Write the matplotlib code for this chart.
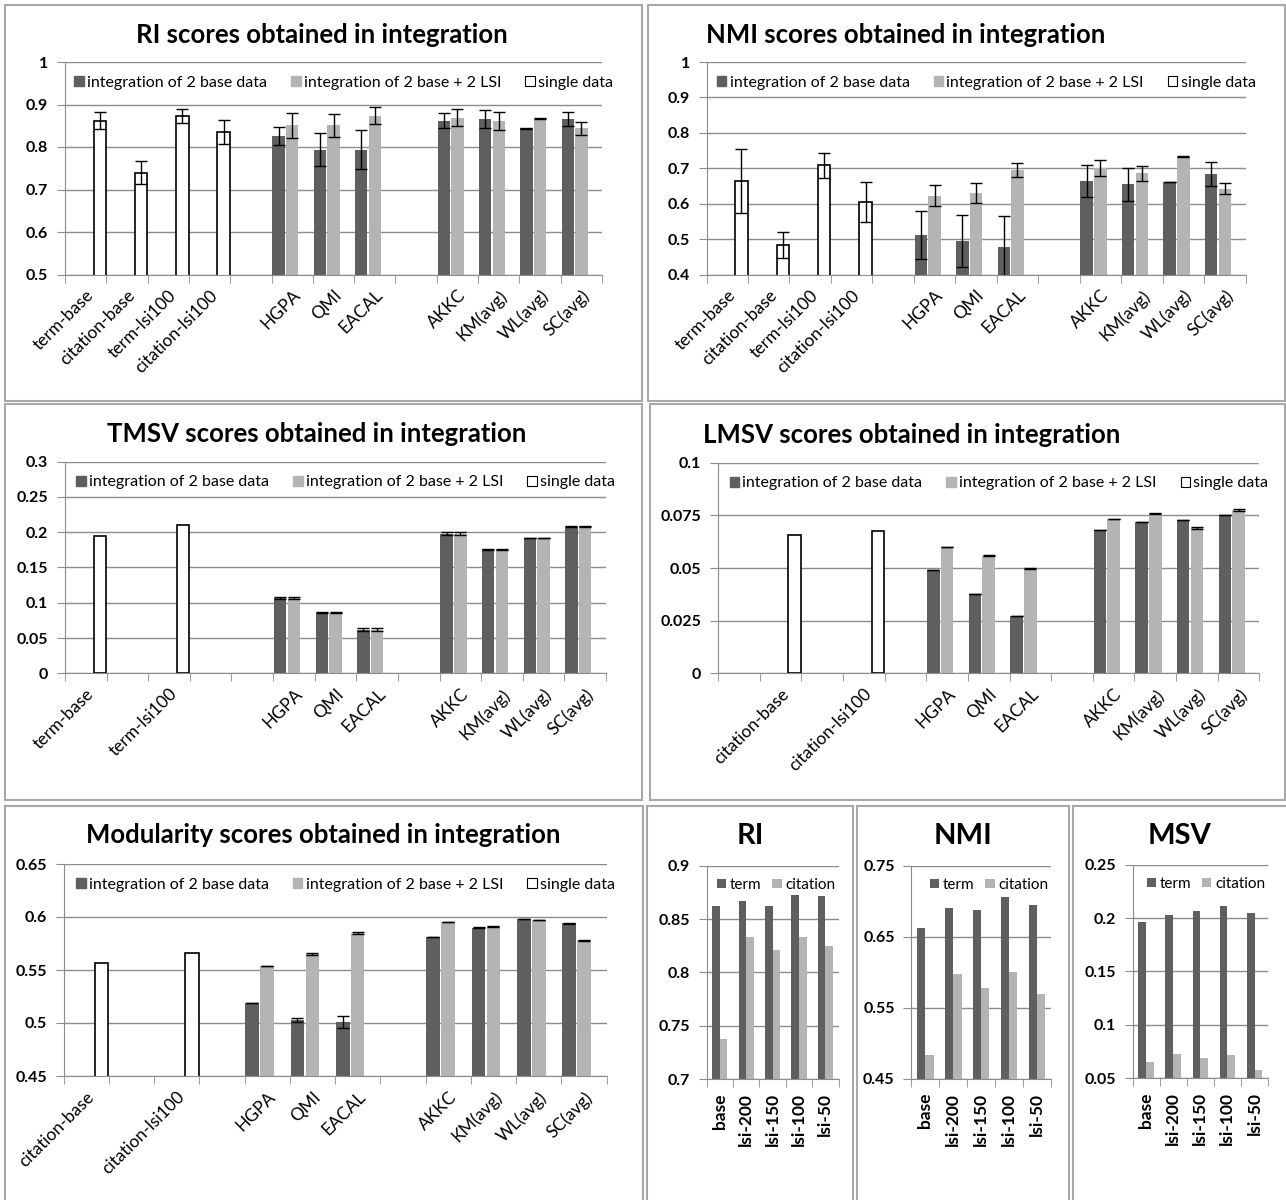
import matplotlib
matplotlib.use("Agg")
import matplotlib.pyplot as plt
import numpy as np
from matplotlib.patches import Rectangle, Patch
from matplotlib.ticker import FixedLocator

plt.rcParams['font.family'] = ['Lato', 'DejaVu Sans']

# ---- data ----
ri_nmi_labels = ['term-base', 'citation-base', 'term-lsi100', 'citation-lsi100', '',
                 'HGPA', 'QMI', 'EACAL', '', 'AKKC', 'KM(avg)', 'WL(avg)', 'SC(avg)']
tmsv_labels = ['term-base', '', 'term-lsi100', '', '',
               'HGPA', 'QMI', 'EACAL', '', 'AKKC', 'KM(avg)', 'WL(avg)', 'SC(avg)']
lmsv_labels = ['', 'citation-base', '', 'citation-lsi100', '',
               'HGPA', 'QMI', 'EACAL', '', 'AKKC', 'KM(avg)', 'WL(avg)', 'SC(avg)']
mod_labels = ['citation-base', '', 'citation-lsi100', '',
              'HGPA', 'QMI', 'EACAL', '', 'AKKC', 'KM(avg)', 'WL(avg)', 'SC(avg)']

# slot index of each single-data bar and each method pair
ri_single_slots = [0, 1, 2, 3]
tmsv_single_slots = [0, 2]
lmsv_single_slots = [1, 3]
mod_single_slots = [0, 2]
method_slots_13 = [5, 6, 7, 9, 10, 11, 12]
method_slots_12 = [4, 5, 6, 8, 9, 10, 11]

ri_single = [0.862, 0.740, 0.873, 0.835]
ri_single_err = [0.020, 0.028, 0.017, 0.029]
ri_base = [0.825, 0.794, 0.794, 0.862, 0.866, 0.844, 0.866]
ri_base_err = [0.021, 0.038, 0.046, 0.018, 0.022, 0.001, 0.017]
ri_lsi = [0.851, 0.851, 0.873, 0.869, 0.862, 0.867, 0.844]
ri_lsi_err = [0.030, 0.027, 0.020, 0.020, 0.021, 0.001, 0.015]

nmi_single = [0.664, 0.484, 0.708, 0.605]
nmi_single_err = [0.091, 0.037, 0.036, 0.056]
nmi_base = [0.511, 0.495, 0.479, 0.664, 0.655, 0.661, 0.684]
nmi_base_err = [0.067, 0.074, 0.087, 0.044, 0.047, 0.001, 0.033]
nmi_lsi = [0.623, 0.630, 0.695, 0.700, 0.686, 0.733, 0.642]
nmi_lsi_err = [0.030, 0.028, 0.021, 0.023, 0.021, 0.001, 0.016]

tmsv_single = [0.195, 0.210]
tmsv_base = [0.107, 0.086, 0.062, 0.198, 0.176, 0.192, 0.208]
tmsv_base_err = [0.001, 0.001, 0.002, 0.002, 0.0005, 0.0005, 0.0005]
tmsv_lsi = [0.107, 0.086, 0.062, 0.198, 0.176, 0.192, 0.208]
tmsv_lsi_err = [0.001, 0.001, 0.002, 0.002, 0.0005, 0.0005, 0.0005]

lmsv_single = [0.0657, 0.0678]
lmsv_base = [0.0491, 0.0378, 0.0274, 0.0679, 0.0718, 0.0729, 0.0750]
lmsv_base_err = [0, 0, 0, 0, 0, 0, 0]
lmsv_lsi = [0.0600, 0.0559, 0.0498, 0.0733, 0.0759, 0.0690, 0.0775]
lmsv_lsi_err = [0.0002, 0.0002, 0.0002, 0.0001, 0.0001, 0.0006, 0.0004]

mod_single = [0.5563, 0.5664]
mod_base = [0.519, 0.5025, 0.501, 0.581, 0.590, 0.598, 0.594]
mod_base_err = [0, 0.002, 0.006, 0, 0.0003, 0.0003, 0.0003]
mod_lsi = [0.554, 0.565, 0.585, 0.595, 0.591, 0.597, 0.578]
mod_lsi_err = [0, 0.001, 0.001, 0, 0.0005, 0.0003, 0.0003]

lsi_labels = ['base', 'lsi-200', 'lsi-150', 'lsi-100', 'lsi-50']
s_ri_term = [0.862, 0.867, 0.862, 0.873, 0.872]
s_ri_cit = [0.738, 0.833, 0.821, 0.833, 0.825]
s_nmi_term = [0.663, 0.690, 0.687, 0.706, 0.695]
s_nmi_cit = [0.484, 0.597, 0.578, 0.600, 0.570]
s_msv_term = [0.196, 0.2025, 0.207, 0.211, 0.205]
s_msv_cit = [0.065, 0.073, 0.069, 0.072, 0.058]

DARK = '#5f5f5f'
LIGHT = '#b4b4b4'
GRID = '#8c8c8c'
BORDER = '#a8a8a8'

W, H = 1286, 1200
fig = plt.figure(figsize=(W / 100, H / 100), dpi=100)


def rect(x0, x1, ytop, ybot):
    return [x0 / W, 1 - ybot / H, (x1 - x0) / W, (ybot - ytop) / H]


def box(x0, y0, x1, y1):
    fig.patches.append(Rectangle((x0 / W, 1 - y1 / H), (x1 - x0) / W, (y1 - y0) / H,
                                 transform=fig.transFigure, fill=False,
                                 edgecolor=BORDER, lw=1.5))


def title(x, y, s, size=18.5):
    fig.text(x / W, 1 - y / H, s, ha='center', va='center', fontsize=size, fontweight='bold')


def style_axes(ax, ymin, ymax, step, nslots, xpad):
    # tick_params / grid first: they can rebuild the ticks and drop label styling
    ax.tick_params(axis='y', length=6, color=GRID, pad=6)
    ax.tick_params(axis='x', which='minor', length=6, color=GRID)
    ax.tick_params(axis='x', which='major', length=0, pad=xpad)
    ax.yaxis.grid(True, color=GRID, lw=1)
    ax.set_axisbelow(True)
    ax.set_xlim(0, nslots)
    ax.set_ylim(ymin, ymax)
    ticks = np.round(np.arange(ymin, ymax + step / 2, step), 4)
    ax.set_yticks(ticks)
    ax.set_yticklabels(['%g' % t for t in ticks], fontsize=11.5, fontweight='bold')
    for s in ['top', 'right']:
        ax.spines[s].set_visible(False)
    for s in ['left', 'bottom']:
        ax.spines[s].set_color(GRID)
    ax.xaxis.set_minor_locator(FixedLocator(np.arange(0, nslots + 1)))


def bold_y(ax):
    for t in ax.get_yticklabels():
        t.set_fontweight('bold')
        t.set_fontsize(11.5)


def big_panel(r, labels, single_slots, single, single_err, mslots,
              base, base_err, lsi, lsi_err, ymin, ymax, step):
    ax = fig.add_axes(r)
    n = len(labels)
    style_axes(ax, ymin, ymax, step, n, 9)
    bw = 0.3
    ekw = dict(ecolor='black', capsize=4, elinewidth=1, capthick=1)
    ms = np.array(mslots)
    ax.bar(ms + 0.17, base, bw, color=DARK, yerr=base_err, error_kw=ekw)
    ax.bar(ms + 0.50, lsi, bw, color=LIGHT, yerr=lsi_err, error_kw=ekw)
    ss = np.array(single_slots)
    ax.bar(ss + 0.84, single, bw, color='white', edgecolor='black', lw=1.2,
           yerr=single_err, error_kw=ekw)
    ax.set_xticks(np.arange(n) + 0.5)
    ax.set_xticklabels(labels, rotation=45, ha='right', rotation_mode='anchor', fontsize=12.5)
    handles = [Patch(facecolor=DARK, edgecolor=DARK),
               Patch(facecolor=LIGHT, edgecolor=LIGHT),
               Patch(facecolor='white', edgecolor='black', lw=0.8)]
    ax.legend(handles, ['integration of 2 base data', 'integration of 2 base + 2 LSI', 'single data'],
              loc='upper center', bbox_to_anchor=(0.519, 1.0), ncol=3, frameon=False,
              handlelength=0.6, handleheight=0.6, handletextpad=0.2, columnspacing=1.5,
              fontsize=11.5, borderaxespad=0.45)
    bold_y(ax)
    return ax


def small_panel(r, term, cit, ymin, ymax, step):
    ax = fig.add_axes(r)
    n = len(lsi_labels)
    style_axes(ax, ymin, ymax, step, n, 10)
    x = np.arange(n)
    ax.bar(x + 0.36, term, 0.29, color=DARK)
    ax.bar(x + 0.65, cit, 0.29, color=LIGHT)
    ax.set_xticks(x + 0.5)
    ax.set_xticklabels(lsi_labels, rotation=90, fontsize=12.5, fontweight='bold')
    handles = [Patch(facecolor=DARK), Patch(facecolor=LIGHT)]
    ax.legend(handles, ['term', 'citation'], loc='upper right', bbox_to_anchor=(1.07, 1.0),
              ncol=2, frameon=False, handlelength=0.6, handleheight=0.6, handletextpad=0.25,
              columnspacing=0.7, fontsize=11, borderaxespad=0.4)
    bold_y(ax)
    return ax


# panel borders
box(5, 5, 642, 401)
box(648, 5, 1285, 401)
box(5, 404, 642, 800)
box(650, 404, 1285, 800)
box(5, 806, 643, 1205)
box(647, 806, 853, 1205)
box(857, 806, 1069, 1205)
box(1073, 806, 1290, 1205)

big_panel(rect(65, 602, 62, 274.5), ri_nmi_labels, ri_single_slots, ri_single, ri_single_err,
          method_slots_13, ri_base, ri_base_err, ri_lsi, ri_lsi_err, 0.5, 1.0, 0.1)
title(322, 35, 'RI scores obtained in integration')

big_panel(rect(706.5, 1245.5, 62, 274.5), ri_nmi_labels, ri_single_slots, nmi_single, nmi_single_err,
          method_slots_13, nmi_base, nmi_base_err, nmi_lsi, nmi_lsi_err, 0.4, 1.0, 0.1)
title(906, 35, 'NMI scores obtained in integration')

big_panel(rect(65, 606, 461.7, 673.3), tmsv_labels, tmsv_single_slots, tmsv_single, None,
          method_slots_13, tmsv_base, tmsv_base_err, tmsv_lsi, tmsv_lsi_err, 0, 0.3, 0.05)
title(317, 434, 'TMSV scores obtained in integration')

big_panel(rect(718, 1259.4, 462.7, 673.3), lmsv_labels, lmsv_single_slots, lmsv_single, None,
          method_slots_13, lmsv_base, lmsv_base_err, lmsv_lsi, lmsv_lsi_err, 0, 0.1, 0.025)
title(912, 435, 'LMSV scores obtained in integration')

big_panel(rect(63.5, 606.6, 864, 1076), mod_labels, mod_single_slots, mod_single, None,
          method_slots_12, mod_base, mod_base_err, mod_lsi, mod_lsi_err, 0.45, 0.65, 0.05)
title(323, 835, 'Modularity scores obtained in integration')

small_panel(rect(706.5, 838.5, 865.7, 1079.3), s_ri_term, s_ri_cit, 0.7, 0.9, 0.05)
title(750, 836, 'RI', 21)
small_panel(rect(911.4, 1051, 865.7, 1079), s_nmi_term, s_nmi_cit, 0.45, 0.75, 0.1)
title(963, 836, 'NMI', 21)
small_panel(rect(1132.5, 1268, 864.7, 1078.3), s_msv_term, s_msv_cit, 0.05, 0.25, 0.05)
title(1180, 836, 'MSV', 21)

fig.savefig('out.png', dpi=100)
